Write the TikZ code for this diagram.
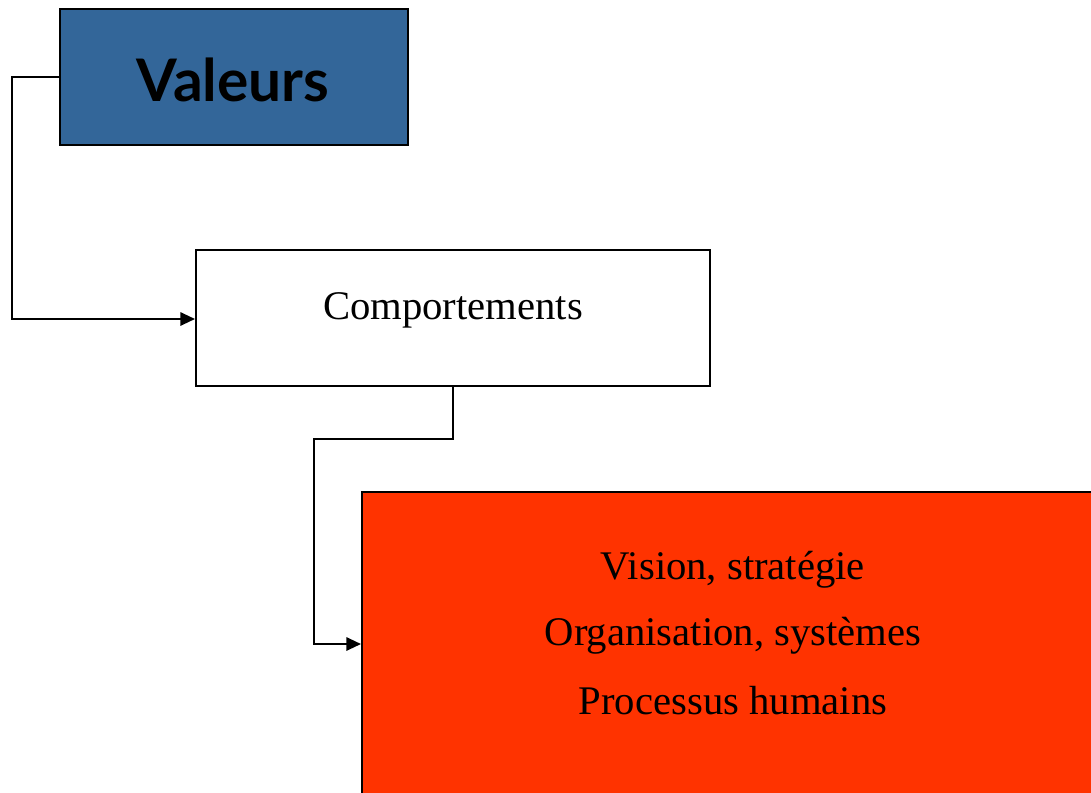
\documentclass[tikz,border=0pt]{standalone}
\usepackage{fontspec}
\setmainfont{Liberation Serif}
\newfontfamily\handfont{Lato}
\usetikzlibrary{arrows.meta}
\definecolor{valblue}{RGB}{51,102,153}
\definecolor{redbox}{RGB}{255,51,0}
\tikzset{
  box/.style={draw=black, line width=1.5pt, inner sep=0pt},
  conn/.style={draw=black, line width=1.5pt, -{Triangle[length=11pt,width=10pt]}},
  txt/.style={font=\fontsize{30.5}{36}\selectfont, inner sep=0pt, anchor=center}
}
\begin{document}
\begin{tikzpicture}[x=0.75pt,y=-0.75pt]
\useasboundingbox (0,0) rectangle (1091,792);
\fill[white] (0,0) rectangle (1091,792);
% boxes
\node[box, fill=valblue, minimum width=348*0.75pt, minimum height=136*0.75pt] (val) at (234,77) {};
\node[box, fill=white, minimum width=514*0.75pt, minimum height=136*0.75pt] (comp) at (453,318) {};
\node[box, fill=redbox, minimum width=742*0.75pt, minimum height=340*0.75pt] (red) at (733,662) {};
% texts
\node[font=\handfont\bfseries\fontsize{44}{50}\selectfont, inner sep=0pt] (valtxt) at (233,80) {Valeurs};
\node[txt] (comptxt) at (453,310) {Comportements};
\node[txt] (l1) at (733,570) {Vision, stratégie};
\node[txt] (l2) at (733,636) {Organisation, systèmes};
\node[txt] (l3) at (733,701) {Processus humains};
% connectors
\coordinate (c1) at (12,77);
\coordinate (c2) at (12,319);
\draw[conn] (val.west) -- (c1) -- (c2) -- (comp.west |- c2);
\coordinate (d1) at (453,439);
\coordinate (d2) at (314,439);
\coordinate (d3) at (314,644);
\draw[conn] (comp.south) -- (d1) -- (d2) -- (d3) -- (red.west |- d3);
\end{tikzpicture}
\end{document}
